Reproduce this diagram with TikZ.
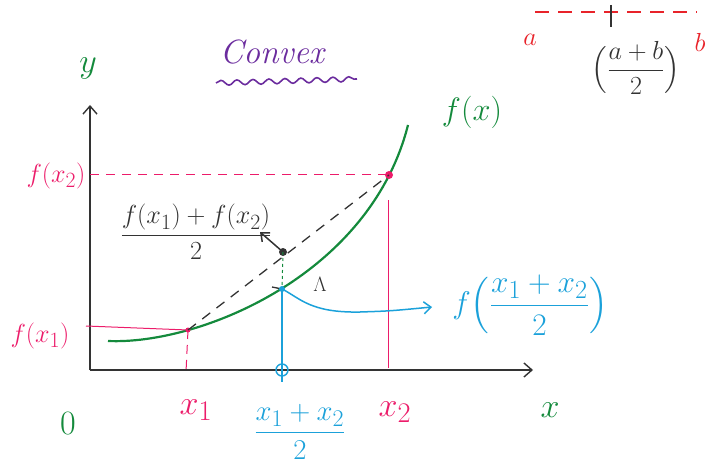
\documentclass[tikz,border=0pt]{standalone}
\usepackage{amsmath}
\usepackage{tikz}
\usetikzlibrary{arrows.meta, positioning, decorations.pathmorphing}
\definecolor{inkblack}{HTML}{333333}
\definecolor{inkgreen}{HTML}{148A3C}
\definecolor{inkpink}{HTML}{EC1C6A}
\definecolor{inkblue}{HTML}{1BA1DA}
\definecolor{inkpurple}{HTML}{6B2C9E}
\definecolor{inkred}{HTML}{E8232A}

\begin{document}
\begin{tikzpicture}[
  x=1pt, y=-1pt,
  big/.style={font=\Huge, scale=1.37},
  mid/.style={font=\Huge, scale=1.05},
  small/.style={font=\huge},
  axis/.style={-{Straight Barb[length=8pt, width=14pt]}, color=inkblack, line width=1.4pt},
  guide/.style={color=inkpink, line width=1pt},
  chord/.style={dashed, dash pattern=on 10pt off 8pt, color=inkblack, line width=1.3pt},
  barb/.style={-{Straight Barb[length=7pt, width=12pt]}, line width=1.5pt}
]
\useasboundingbox (0,0) rectangle (714,473);
% axes
\coordinate (origin) at (90,370);
\coordinate (ytip)   at (90,105);
\coordinate (xtip)   at (533,370);
\draw[axis] (origin) -- (ytip);
\draw[axis] (origin) -- (xtip);
\node[big, text=inkgreen] (ylbl) at (88,68) {$y$};
\node[big, text=inkgreen] (xlbl) at (550,410) {$x$};
\node[big, text=inkgreen] (zero) at (68,424) {$0$};
% title
\node[font=\Huge\itshape, scale=1.35, text=inkpurple] (title) at (272,52) {Convex};
\draw[inkpurple, line width=1.6pt, decorate,
      decoration={snake, amplitude=2.5pt, segment length=16pt}]
      (216,83) -- (357,79);
% points on the curve
\coordinate (c0)  at (108,341);
\coordinate (c3)  at (408,125);
\coordinate (p1)  at (188,330);
\coordinate (pm)  at (282,289);
\coordinate (p2)  at (389,175);
\coordinate (mid) at (283,252);
% curve
\draw[inkgreen, line width=2.2pt] (c0) .. controls (200,345) and (370,275) .. (c3);
\node[big, scale=0.95, text=inkgreen] (flbl) at (472,112) {$f(x)$};
% guide lines
\coordinate (y1) at (86,326);
\coordinate (y2) at (90,175);
\coordinate (x1) at (186,372);
\coordinate (x2b) at (388,368);
\coordinate (x2t) at (388,200);
\draw[guide, dashed, dash pattern=on 9pt off 7pt] (y2) -- (p2);
\draw[guide] (y1) -- (p1);
\draw[guide, dashed, dash pattern=on 9pt off 6pt] (p1) -- (x1);
\draw[guide] (x2t) -- (x2b);
\fill[inkpink] (p2) circle (4pt);
\fill[inkpink] (p1) circle (2.5pt);
\node[mid, text=inkpink] (fx2) at (56,176) {$f(x_2)$};
\node[mid, text=inkpink] (fx1) at (40,336) {$f(x_1)$};
\node[big, text=inkpink] (x1lbl) at (196,410) {$x_1$};
\node[big, text=inkpink] (x2lbl) at (395,412) {$x_2$};
% chord and midpoint
\draw[chord] (p1) -- (p2);
\fill[inkblack] (mid) circle (4pt);
\coordinate (avgtip) at (260,232);
\draw[barb, inkblack] (mid) -- (avgtip);
\node[mid, text=inkblack] (avg) at (196,232)
      {$\dfrac{f(x_1)+f(x_2)}{2}$};
\draw[inkgreen, dashed, line width=1pt] (mid) -- (pm);
\draw[inkblack, line width=1.3pt] (272,287) -- (pm);
\node[small, text=inkblack] (gt) at (320,284) {$\Lambda$};
% value at the midpoint
\coordinate (xm)  at (282,370);
\coordinate (xmb) at (282,382);
\coordinate (ftip) at (432,307);
\draw[inkblue, line width=1.4pt] (pm) -- (xmb);
\draw[inkblue, line width=1.4pt] (xm) circle (6pt);
\fill[inkblue] (pm) circle (3pt);
\draw[inkblue, barb] (pm) .. controls (300,298) and (310,313) .. (360,312)
      .. controls (390,311) .. (ftip);
\node[mid, scale=1.2, text=inkblue, anchor=west] (fmid) at (448,305)
      {$f\Bigl(\dfrac{x_1+x_2}{2}\Bigr)$};
\node[mid, scale=1.1, text=inkblue] (xmlbl) at (300,432) {$\dfrac{x_1+x_2}{2}$};
% number line
\coordinate (ea) at (535,12);
\coordinate (eb) at (697,12);
\coordinate (em) at (611,12);
\draw[inkred, line width=1.5pt, dashed, dash pattern=on 14pt off 9pt] (ea) -- (eb);
\draw[inkblack, line width=1.2pt] (611,5) -- (611,27);
\node[mid, text=inkred] (alb) at (530,40) {$a$};
\node[mid, text=inkred] (blb) at (700,42) {$b$};
\node[mid, text=inkblack] (ab) at (636,68) {$\Bigl(\dfrac{a+b}{2}\Bigr)$};
\end{tikzpicture}
\end{document}
